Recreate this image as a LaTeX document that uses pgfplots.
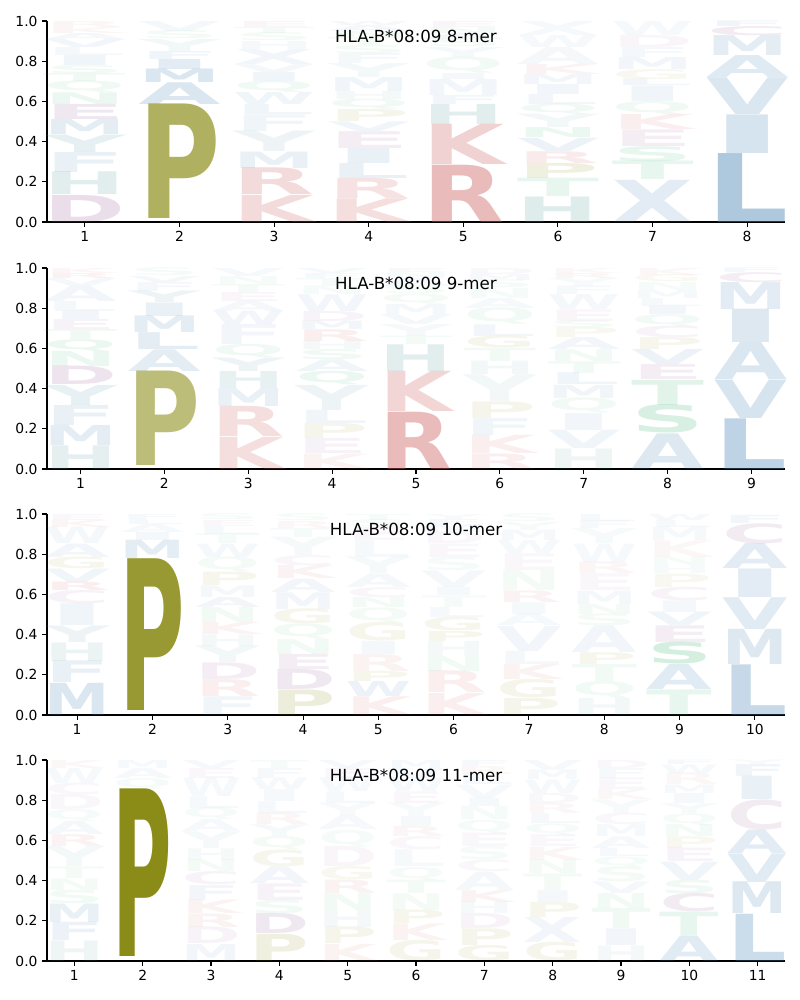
\documentclass[border=0pt]{standalone}
\usepackage{fontspec}
\setmainfont{DejaVu Sans}
\newfontfamily\lf{DejaVu Sans Bold}
\usepackage{graphicx}
\usepackage{pgfplots}
\pgfplotsset{compat=1.18}
\definecolor{colA}{RGB}{70,130,180}
\definecolor{colV}{RGB}{70,130,180}
\definecolor{colL}{RGB}{70,130,180}
\definecolor{colI}{RGB}{70,130,180}
\definecolor{colM}{RGB}{70,130,180}
\definecolor{colF}{RGB}{70,130,180}
\definecolor{colW}{RGB}{70,130,180}
\definecolor{colX}{RGB}{70,130,180}
\definecolor{colY}{RGB}{85,150,165}
\definecolor{colH}{RGB}{95,158,160}
\definecolor{colK}{RGB}{205,92,92}
\definecolor{colR}{RGB}{205,92,92}
\definecolor{colD}{RGB}{150,90,150}
\definecolor{colE}{RGB}{150,90,150}
\definecolor{colC}{RGB}{150,90,150}
\definecolor{colP}{RGB}{128,128,0}
\definecolor{colG}{RGB}{128,128,0}
\definecolor{colS}{RGB}{60,179,113}
\definecolor{colT}{RGB}{60,179,113}
\definecolor{colN}{RGB}{60,179,113}
\definecolor{colQ}{RGB}{60,179,113}
\pgfplotsset{
  logo/.style={
    scale only axis, width=553.5pt, height=150.75pt,
    anchor=north west,
    ymin=0, ymax=1, ytick={0,0.2,0.4,0.6,0.8,1},
    yticklabel style={/pgf/number format/.cd, fixed, fixed zerofill, precision=1},
    /pgf/number format/assume math mode=true,
    axis x line*=bottom, axis y line*=left,
    tick align=outside, major tick length=3.6pt,
    axis line style={line width=0.8pt},
    every tick/.style={black, line width=0.8pt},
    tick label style={font=\fontsize{10.4}{12}\selectfont},
    minor tick num=0,
    clip=false,
  },
  letters/.style={
    scatter, only marks, mark=text, text mark={},
    point meta=explicit symbolic,
    visualization depends on={\thisrow{t}-\thisrow{y} \as \hh},
    visualization depends on={\thisrow{o} \as \op},
    visualization depends on={value \thisrow{l} \as \myL},
    scatter/@pre marker code/.code={%
      \pgfmathsetlengthmacro\lh{\hh*150.75pt}%
      \node[anchor=south, inner sep=0pt, outer sep=0pt, text=col\myL, text opacity=\op] {\resizebox*{\lw}{\lh}{\lf\myL}};%
    },
    scatter/@post marker code/.code={},
  },
}
\begin{document}
\begin{tikzpicture}
\useasboundingbox (-35.25pt,15.75pt) rectangle (564.75pt,-734.25pt);
% ---------------- 8-mer
\def\lw{61.7pt}
\begin{axis}[logo, at={(0pt,0pt)}, xmin=0.6, xmax=8.4, xtick={1,2,3,4,5,6,7,8}]
\addplot[letters] table[x=x, y=y, meta=l, row sep=\\] {
x y t l o \\
1 0 0.135 D 0.2 \\
1 0.135 0.248 H 0.18 \\
1 0.248 0.348 F 0.12 \\
1 0.348 0.435 Y 0.15 \\
1 0.435 0.51 M 0.14 \\
1 0.51 0.585 E 0.14 \\
1 0.585 0.643 N 0.1 \\
1 0.643 0.70 Q 0.08 \\
1 0.70 0.74 T 0.08 \\
1 0.74 0.78 S 0.07 \\
1 0.78 0.83 I 0.08 \\
1 0.83 0.87 L 0.06 \\
1 0.87 0.91 V 0.07 \\
1 0.91 0.94 A 0.06 \\
1 0.94 0.97 K 0.06 \\
1 0.97 1.0 R 0.06 \\
2 0.015 0.585 P 0.62 \\
2 0.585 0.693 A 0.2 \\
2 0.693 0.76 M 0.2 \\
2 0.76 0.81 I 0.15 \\
2 0.81 0.85 F 0.08 \\
2 0.85 0.91 Y 0.08 \\
2 0.91 0.95 S 0.06 \\
2 0.95 1.0 V 0.06 \\
3 0 0.135 K 0.22 \\
3 0.135 0.268 R 0.22 \\
3 0.268 0.35 M 0.12 \\
3 0.35 0.452 Y 0.1 \\
3 0.452 0.535 F 0.08 \\
3 0.535 0.585 L 0.08 \\
3 0.585 0.645 W 0.08 \\
3 0.645 0.70 Q 0.08 \\
3 0.70 0.745 I 0.08 \\
3 0.745 0.785 V 0.06 \\
3 0.785 0.86 X 0.07 \\
3 0.86 0.90 H 0.06 \\
3 0.90 0.94 S 0.06 \\
3 0.94 0.97 T 0.06 \\
3 0.97 1.0 E 0.06 \\
4 0 0.118 K 0.2 \\
4 0.118 0.218 R 0.18 \\
4 0.218 0.293 L 0.12 \\
4 0.293 0.368 I 0.12 \\
4 0.368 0.452 E 0.1 \\
4 0.452 0.50 V 0.08 \\
4 0.50 0.56 P 0.08 \\
4 0.56 0.61 Q 0.08 \\
4 0.61 0.65 H 0.07 \\
4 0.65 0.72 M 0.08 \\
4 0.72 0.79 Y 0.07 \\
4 0.79 0.84 F 0.06 \\
4 0.84 0.88 S 0.06 \\
4 0.88 0.92 T 0.06 \\
4 0.92 0.95 N 0.06 \\
4 0.95 0.98 A 0.06 \\
4 0.98 1.0 W 0.06 \\
5 0 0.285 R 0.42 \\
5 0.285 0.485 K 0.28 \\
5 0.485 0.585 H 0.18 \\
5 0.585 0.63 F 0.07 \\
5 0.63 0.71 M 0.07 \\
5 0.71 0.74 I 0.06 \\
5 0.74 0.82 Q 0.07 \\
5 0.82 0.87 Y 0.06 \\
5 0.87 0.91 S 0.06 \\
5 0.91 0.94 A 0.06 \\
5 0.94 0.97 N 0.06 \\
5 0.97 1.0 E 0.06 \\
6 0 0.127 H 0.2 \\
6 0.127 0.218 T 0.12 \\
6 0.218 0.293 P 0.12 \\
6 0.293 0.352 R 0.12 \\
6 0.352 0.418 V 0.1 \\
6 0.418 0.468 N 0.1 \\
6 0.468 0.535 Y 0.08 \\
6 0.535 0.585 Q 0.08 \\
6 0.585 0.635 L 0.07 \\
6 0.635 0.685 I 0.07 \\
6 0.685 0.735 M 0.07 \\
6 0.735 0.785 K 0.07 \\
6 0.785 0.87 A 0.06 \\
6 0.87 0.93 W 0.05 \\
6 0.93 1.0 X 0.05 \\
7 0 0.21 X 0.15 \\
7 0.21 0.302 T 0.12 \\
7 0.302 0.377 S 0.12 \\
7 0.377 0.46 E 0.1 \\
7 0.46 0.535 K 0.1 \\
7 0.535 0.60 Q 0.08 \\
7 0.60 0.677 I 0.08 \\
7 0.677 0.71 L 0.07 \\
7 0.71 0.76 G 0.06 \\
7 0.76 0.82 M 0.07 \\
7 0.82 0.87 F 0.06 \\
7 0.87 0.93 D 0.06 \\
7 0.93 1.0 W 0.05 \\
8 0 0.343 L 0.44 \\
8 0.343 0.535 I 0.22 \\
8 0.535 0.718 V 0.2 \\
8 0.718 0.827 A 0.17 \\
8 0.827 0.927 M 0.14 \\
8 0.927 0.972 C 0.12 \\
8 0.972 1.0 F 0.08 \\
};
\node[font=\fontsize{12.5}{15}\selectfont] at (rel axis cs:0.5,0.925) {HLA-B*08:09 8-mer};
\end{axis}
% ---------------- 9-mer
\def\lw{54.7pt}
\begin{axis}[logo, at={(0pt,-185.25pt)}, xmin=0.6, xmax=9.4, xtick={1,2,3,4,5,6,7,8,9}]
\addplot[letters] table[x=x, y=y, meta=l, row sep=\\] {
x y t l o \\
1 0 0.118 H 0.16 \\
1 0.118 0.218 M 0.14 \\
1 0.218 0.318 F 0.12 \\
1 0.318 0.418 Y 0.14 \\
1 0.418 0.51 D 0.16 \\
1 0.51 0.585 N 0.1 \\
1 0.585 0.643 Q 0.1 \\
1 0.643 0.693 T 0.08 \\
1 0.693 0.743 E 0.08 \\
1 0.743 0.785 I 0.07 \\
1 0.785 0.835 L 0.06 \\
1 0.835 0.91 A 0.07 \\
1 0.91 0.95 V 0.06 \\
1 0.95 0.975 R 0.08 \\
1 0.975 1.0 K 0.06 \\
2 0.015 0.485 P 0.52 \\
2 0.485 0.593 A 0.14 \\
2 0.593 0.677 L 0.14 \\
2 0.677 0.76 M 0.14 \\
2 0.76 0.827 I 0.12 \\
2 0.827 0.885 Y 0.1 \\
2 0.885 0.93 F 0.06 \\
2 0.93 0.96 V 0.06 \\
2 0.96 1.0 S 0.05 \\
3 0 0.16 K 0.2 \\
3 0.16 0.31 R 0.2 \\
3 0.31 0.40 M 0.12 \\
3 0.40 0.485 H 0.14 \\
3 0.485 0.552 Y 0.1 \\
3 0.552 0.618 Q 0.08 \\
3 0.618 0.718 F 0.07 \\
3 0.718 0.785 W 0.07 \\
3 0.785 0.835 A 0.06 \\
3 0.835 0.88 E 0.06 \\
3 0.88 0.92 T 0.06 \\
3 0.92 0.96 N 0.05 \\
3 0.96 1.0 V 0.05 \\
4 0 0.077 K 0.08 \\
4 0.077 0.152 E 0.08 \\
4 0.152 0.227 P 0.08 \\
4 0.227 0.293 L 0.08 \\
4 0.293 0.418 Y 0.1 \\
4 0.418 0.485 Q 0.1 \\
4 0.485 0.543 A 0.08 \\
4 0.543 0.593 S 0.08 \\
4 0.593 0.635 H 0.07 \\
4 0.635 0.693 R 0.1 \\
4 0.693 0.735 M 0.07 \\
4 0.735 0.785 D 0.07 \\
4 0.785 0.868 W 0.07 \\
4 0.868 0.91 N 0.05 \\
4 0.91 0.95 T 0.05 \\
4 0.95 0.975 F 0.05 \\
4 0.975 1.0 V 0.05 \\
5 0 0.285 R 0.42 \\
5 0.285 0.485 K 0.25 \\
5 0.485 0.618 H 0.18 \\
5 0.618 0.66 T 0.06 \\
5 0.66 0.72 Y 0.06 \\
5 0.72 0.77 V 0.06 \\
5 0.77 0.82 M 0.06 \\
5 0.82 0.87 Q 0.06 \\
5 0.87 0.91 S 0.05 \\
5 0.91 0.95 A 0.05 \\
5 0.95 0.98 N 0.05 \\
5 0.98 1.0 E 0.05 \\
6 0 0.077 R 0.1 \\
6 0.077 0.168 K 0.1 \\
6 0.168 0.252 F 0.08 \\
6 0.252 0.335 P 0.08 \\
6 0.335 0.468 Y 0.08 \\
6 0.468 0.535 H 0.08 \\
6 0.535 0.602 T 0.07 \\
6 0.602 0.66 G 0.08 \\
6 0.66 0.718 L 0.07 \\
6 0.718 0.80 Q 0.07 \\
6 0.80 0.85 A 0.05 \\
6 0.85 0.90 N 0.05 \\
6 0.90 0.94 S 0.05 \\
6 0.94 0.97 M 0.05 \\
6 0.97 1.0 D 0.05 \\
7 0 0.102 H 0.1 \\
7 0.102 0.193 V 0.08 \\
7 0.193 0.277 I 0.07 \\
7 0.277 0.352 Q 0.07 \\
7 0.352 0.418 M 0.08 \\
7 0.418 0.477 L 0.08 \\
7 0.477 0.535 T 0.07 \\
7 0.535 0.593 N 0.07 \\
7 0.593 0.652 A 0.07 \\
7 0.652 0.702 P 0.06 \\
7 0.702 0.735 S 0.06 \\
7 0.735 0.793 E 0.06 \\
7 0.793 0.868 W 0.06 \\
7 0.868 0.91 F 0.05 \\
7 0.91 0.95 Y 0.05 \\
7 0.95 0.975 R 0.06 \\
7 0.975 1.0 K 0.05 \\
8 0 0.177 A 0.18 \\
8 0.177 0.318 S 0.2 \\
8 0.318 0.443 T 0.15 \\
8 0.443 0.518 E 0.1 \\
8 0.518 0.593 V 0.1 \\
8 0.593 0.652 P 0.07 \\
8 0.652 0.71 C 0.07 \\
8 0.71 0.768 Q 0.07 \\
8 0.768 0.81 I 0.07 \\
8 0.81 0.85 L 0.05 \\
8 0.85 0.89 M 0.05 \\
8 0.89 0.93 N 0.05 \\
8 0.93 0.965 G 0.05 \\
8 0.965 1.0 K 0.05 \\
9 0 0.252 L 0.35 \\
9 0.252 0.443 V 0.22 \\
9 0.443 0.627 A 0.2 \\
9 0.627 0.793 I 0.18 \\
9 0.793 0.927 M 0.15 \\
9 0.927 0.977 C 0.1 \\
9 0.977 1.0 F 0.06 \\
};
\node[font=\fontsize{12.5}{15}\selectfont] at (rel axis cs:0.5,0.925) {HLA-B*08:09 9-mer};
\end{axis}
% ---------------- 10-mer
\def\lw{49.1pt}
\begin{axis}[logo, at={(0pt,-369.75pt)}, xmin=0.6, xmax=10.4, xtick={1,2,3,4,5,6,7,8,9,10}]
\addplot[letters] table[x=x, y=y, meta=l, row sep=\\] {
x y t l o \\
1 0 0.16 M 0.2 \\
1 0.16 0.268 F 0.12 \\
1 0.268 0.36 H 0.12 \\
1 0.36 0.443 Y 0.1 \\
1 0.443 0.552 I 0.08 \\
1 0.552 0.618 C 0.08 \\
1 0.618 0.66 R 0.1 \\
1 0.66 0.727 V 0.08 \\
1 0.727 0.785 G 0.07 \\
1 0.785 0.852 A 0.07 \\
1 0.852 0.935 W 0.06 \\
1 0.935 0.97 K 0.06 \\
1 0.97 1.0 E 0.05 \\
2 0.022 0.777 P 0.8 \\
2 0.777 0.868 M 0.14 \\
2 0.868 0.91 I 0.06 \\
2 0.91 0.95 A 0.05 \\
2 0.95 0.975 L 0.05 \\
2 0.975 1.0 F 0.05 \\
3 0 0.093 F 0.08 \\
3 0.093 0.177 R 0.1 \\
3 0.177 0.26 D 0.1 \\
3 0.26 0.343 Y 0.08 \\
3 0.343 0.40 H 0.07 \\
3 0.40 0.46 K 0.08 \\
3 0.46 0.535 N 0.07 \\
3 0.535 0.585 A 0.07 \\
3 0.585 0.643 M 0.06 \\
3 0.643 0.71 P 0.07 \\
3 0.71 0.785 Q 0.06 \\
3 0.785 0.852 W 0.06 \\
3 0.852 0.90 T 0.05 \\
3 0.90 0.94 L 0.05 \\
3 0.94 0.97 E 0.05 \\
3 0.97 1.0 S 0.05 \\
4 0 0.127 P 0.14 \\
4 0.127 0.227 D 0.14 \\
4 0.227 0.302 E 0.1 \\
4 0.302 0.377 N 0.07 \\
4 0.377 0.452 Q 0.07 \\
4 0.452 0.527 G 0.07 \\
4 0.527 0.61 M 0.07 \\
4 0.61 0.677 A 0.07 \\
4 0.677 0.743 K 0.07 \\
4 0.743 0.793 C 0.06 \\
4 0.793 0.885 Y 0.06 \\
4 0.885 0.93 T 0.05 \\
4 0.93 0.965 R 0.05 \\
4 0.965 1.0 S 0.05 \\
5 0 0.093 K 0.1 \\
5 0.093 0.168 W 0.1 \\
5 0.168 0.218 P 0.07 \\
5 0.218 0.302 R 0.08 \\
5 0.302 0.368 I 0.06 \\
5 0.368 0.46 G 0.07 \\
5 0.46 0.535 Q 0.06 \\
5 0.535 0.585 N 0.06 \\
5 0.585 0.635 C 0.06 \\
5 0.635 0.702 A 0.06 \\
5 0.702 0.785 Y 0.06 \\
5 0.785 0.868 L 0.05 \\
5 0.868 0.935 E 0.05 \\
5 0.935 0.97 S 0.05 \\
5 0.97 1.0 T 0.05 \\
6 0 0.11 K 0.1 \\
6 0.11 0.218 R 0.1 \\
6 0.218 0.293 N 0.07 \\
6 0.293 0.368 H 0.07 \\
6 0.368 0.418 P 0.07 \\
6 0.418 0.485 G 0.07 \\
6 0.485 0.535 L 0.05 \\
6 0.535 0.593 T 0.05 \\
6 0.593 0.635 I 0.05 \\
6 0.635 0.718 V 0.06 \\
6 0.718 0.785 S 0.05 \\
6 0.785 0.852 E 0.05 \\
6 0.852 0.91 D 0.05 \\
6 0.91 0.95 M 0.05 \\
6 0.95 0.975 F 0.05 \\
6 0.975 1.0 Y 0.05 \\
7 0 0.085 P 0.08 \\
7 0.085 0.177 G 0.08 \\
7 0.177 0.252 K 0.08 \\
7 0.252 0.318 L 0.06 \\
7 0.318 0.443 V 0.07 \\
7 0.443 0.502 A 0.05 \\
7 0.502 0.56 I 0.05 \\
7 0.56 0.618 R 0.07 \\
7 0.618 0.718 N 0.06 \\
7 0.718 0.802 E 0.05 \\
7 0.802 0.868 W 0.05 \\
7 0.868 0.92 M 0.05 \\
7 0.92 0.96 Y 0.05 \\
7 0.96 1.0 S 0.05 \\
8 0 0.085 H 0.08 \\
8 0.085 0.168 Q 0.07 \\
8 0.168 0.252 T 0.07 \\
8 0.252 0.31 P 0.07 \\
8 0.31 0.443 A 0.07 \\
8 0.443 0.502 S 0.06 \\
8 0.502 0.552 N 0.06 \\
8 0.552 0.618 M 0.06 \\
8 0.618 0.702 E 0.05 \\
8 0.702 0.76 R 0.06 \\
8 0.76 0.852 W 0.05 \\
8 0.852 0.927 Y 0.05 \\
8 0.927 0.965 F 0.05 \\
8 0.965 1.0 L 0.05 \\
9 0 0.127 T 0.12 \\
9 0.127 0.252 A 0.16 \\
9 0.252 0.36 S 0.22 \\
9 0.36 0.443 E 0.1 \\
9 0.443 0.51 V 0.08 \\
9 0.51 0.568 I 0.06 \\
9 0.568 0.635 C 0.07 \\
9 0.635 0.702 P 0.06 \\
9 0.702 0.743 H 0.05 \\
9 0.743 0.785 N 0.05 \\
9 0.785 0.868 K 0.05 \\
9 0.868 0.935 M 0.05 \\
9 0.935 0.97 L 0.05 \\
9 0.97 1.0 W 0.05 \\
10 0 0.252 L 0.3 \\
10 0.252 0.427 M 0.18 \\
10 0.427 0.585 V 0.16 \\
10 0.585 0.727 I 0.15 \\
10 0.727 0.852 A 0.15 \\
10 0.852 0.952 C 0.12 \\
10 0.952 0.993 F 0.07 \\
};
\node[font=\fontsize{12.5}{15}\selectfont] at (rel axis cs:0.5,0.925) {HLA-B*08:09 10-mer};
\end{axis}
% ---------------- 11-mer
\def\lw{44.6pt}
\begin{axis}[logo, at={(0pt,-554.25pt)}, xmin=0.6, xmax=11.4, xtick={1,2,3,4,5,6,7,8,9,10,11}]
\addplot[letters] table[x=x, y=y, meta=l, row sep=\\] {
x y t l o \\
1 0 0.102 H 0.1 \\
1 0.102 0.193 F 0.1 \\
1 0.193 0.285 M 0.12 \\
1 0.285 0.352 S 0.07 \\
1 0.352 0.41 N 0.06 \\
1 0.41 0.468 T 0.06 \\
1 0.468 0.568 Y 0.07 \\
1 0.568 0.627 R 0.07 \\
1 0.627 0.693 A 0.06 \\
1 0.693 0.752 Q 0.05 \\
1 0.752 0.827 D 0.05 \\
1 0.827 0.885 C 0.05 \\
1 0.885 0.96 W 0.05 \\
1 0.96 1.0 K 0.05 \\
2 0.023 0.857 P 0.91 \\
2 0.857 0.91 Q 0.05 \\
2 0.91 0.96 A 0.05 \\
2 0.96 1.0 M 0.05 \\
3 0 0.085 M 0.07 \\
3 0.085 0.168 D 0.07 \\
3 0.168 0.235 R 0.08 \\
3 0.235 0.302 K 0.08 \\
3 0.302 0.377 F 0.07 \\
3 0.377 0.443 C 0.07 \\
3 0.443 0.502 N 0.06 \\
3 0.502 0.56 H 0.06 \\
3 0.56 0.643 Y 0.06 \\
3 0.643 0.702 A 0.05 \\
3 0.702 0.76 Q 0.05 \\
3 0.76 0.818 L 0.05 \\
3 0.818 0.91 W 0.05 \\
3 0.91 0.96 E 0.05 \\
3 0.96 1.0 V 0.05 \\
4 0 0.135 P 0.12 \\
4 0.135 0.235 D 0.14 \\
4 0.235 0.302 S 0.07 \\
4 0.302 0.385 E 0.08 \\
4 0.385 0.468 A 0.07 \\
4 0.468 0.552 G 0.07 \\
4 0.552 0.618 Q 0.06 \\
4 0.618 0.677 Y 0.06 \\
4 0.677 0.735 R 0.06 \\
4 0.735 0.793 L 0.05 \\
4 0.793 0.852 I 0.05 \\
4 0.852 0.91 W 0.05 \\
4 0.91 0.96 F 0.05 \\
4 0.96 1.0 T 0.05 \\
5 0 0.085 K 0.08 \\
5 0.085 0.168 P 0.08 \\
5 0.168 0.252 H 0.07 \\
5 0.252 0.335 N 0.07 \\
5 0.335 0.402 R 0.08 \\
5 0.402 0.468 G 0.06 \\
5 0.468 0.568 D 0.06 \\
5 0.568 0.652 Q 0.05 \\
5 0.652 0.718 A 0.05 \\
5 0.718 0.785 Y 0.05 \\
5 0.785 0.843 L 0.05 \\
5 0.843 0.91 W 0.05 \\
5 0.91 0.96 E 0.05 \\
5 0.96 1.0 V 0.05 \\
6 0 0.102 G 0.08 \\
6 0.102 0.185 K 0.08 \\
6 0.185 0.252 P 0.07 \\
6 0.252 0.335 N 0.06 \\
6 0.335 0.402 T 0.06 \\
6 0.402 0.468 Q 0.05 \\
6 0.468 0.552 L 0.05 \\
6 0.552 0.618 C 0.05 \\
6 0.618 0.668 R 0.06 \\
6 0.668 0.718 I 0.05 \\
6 0.718 0.785 Y 0.05 \\
6 0.785 0.843 E 0.05 \\
6 0.843 0.91 W 0.05 \\
6 0.91 0.96 V 0.05 \\
6 0.96 1.0 M 0.05 \\
7 0 0.077 G 0.08 \\
7 0.077 0.16 P 0.08 \\
7 0.16 0.235 D 0.07 \\
7 0.235 0.293 H 0.06 \\
7 0.293 0.352 K 0.07 \\
7 0.352 0.443 A 0.06 \\
7 0.443 0.502 C 0.05 \\
7 0.502 0.568 S 0.05 \\
7 0.568 0.635 E 0.05 \\
7 0.635 0.702 Q 0.05 \\
7 0.702 0.768 N 0.05 \\
7 0.768 0.81 I 0.05 \\
7 0.81 0.877 V 0.05 \\
7 0.877 0.93 L 0.05 \\
7 0.93 0.97 R 0.05 \\
7 0.97 1.0 F 0.05 \\
8 0 0.093 G 0.08 \\
8 0.093 0.218 X 0.07 \\
8 0.218 0.293 P 0.07 \\
8 0.293 0.352 I 0.06 \\
8 0.352 0.435 T 0.06 \\
8 0.435 0.502 N 0.06 \\
8 0.502 0.568 K 0.06 \\
8 0.568 0.627 E 0.05 \\
8 0.627 0.685 Q 0.05 \\
8 0.685 0.735 L 0.05 \\
8 0.735 0.785 R 0.05 \\
8 0.785 0.835 D 0.05 \\
8 0.835 0.902 W 0.05 \\
8 0.902 0.95 M 0.05 \\
8 0.95 1.0 V 0.05 \\
9 0 0.077 H 0.07 \\
9 0.077 0.16 I 0.07 \\
9 0.16 0.26 T 0.08 \\
9 0.26 0.335 N 0.07 \\
9 0.335 0.393 V 0.06 \\
9 0.393 0.468 S 0.06 \\
9 0.468 0.518 Q 0.05 \\
9 0.518 0.56 L 0.05 \\
9 0.56 0.618 A 0.05 \\
9 0.618 0.677 M 0.05 \\
9 0.677 0.735 C 0.05 \\
9 0.735 0.802 Y 0.05 \\
9 0.802 0.852 K 0.05 \\
9 0.852 0.91 E 0.05 \\
9 0.91 0.96 F 0.05 \\
9 0.96 1.0 D 0.05 \\
10 0 0.127 A 0.16 \\
10 0.127 0.243 T 0.12 \\
10 0.243 0.335 C 0.12 \\
10 0.335 0.402 S 0.08 \\
10 0.402 0.493 V 0.08 \\
10 0.493 0.56 E 0.07 \\
10 0.56 0.618 P 0.06 \\
10 0.618 0.677 N 0.06 \\
10 0.677 0.735 Q 0.05 \\
10 0.735 0.785 Y 0.05 \\
10 0.785 0.835 I 0.05 \\
10 0.835 0.877 M 0.05 \\
10 0.877 0.935 R 0.05 \\
10 0.935 0.977 W 0.05 \\
10 0.977 1.0 F 0.05 \\
11 0 0.235 L 0.28 \\
11 0.235 0.393 M 0.18 \\
11 0.393 0.535 V 0.16 \\
11 0.535 0.652 A 0.15 \\
11 0.652 0.802 C 0.12 \\
11 0.802 0.918 I 0.12 \\
11 0.918 0.977 F 0.08 \\
11 0.977 1.0 Y 0.05 \\
};
\node[font=\fontsize{12.5}{15}\selectfont] at (rel axis cs:0.5,0.925) {HLA-B*08:09 11-mer};
\end{axis}
\end{tikzpicture}
\end{document}
